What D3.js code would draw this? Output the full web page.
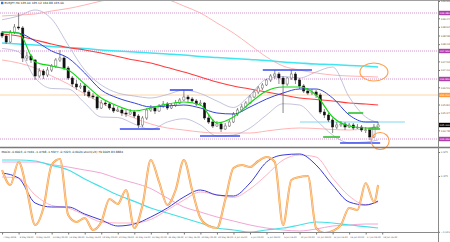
<!DOCTYPE html>
<html>
<head>
<meta charset="utf-8">
<script src="https://cdn.jsdelivr.net/npm/d3@7"></script>
<style>
  body { margin: 0; background: #fff; }
  svg { display: block; }
  text { font-family: "DejaVu Sans", sans-serif; }
</style>
</head>
<body>
<div id="chart"></div>
<script>
// price candles (H4)
const opens = [168.68,168.56,168.32,168.72,168.92,168.88,167.68,167.76,167.60,166.96,167.16,167.00,167.20,167.36,167.60,167.68,167.28,166.88,166.64,166.52,166.56,166.32,166.16,166.12,165.68,165.88,165.84,165.68,165.56,165.60,165.48,165.44,165.52,165.36,165.00,165.28,165.60,165.68,165.56,165.76,165.84,165.68,165.80,165.88,166.00,166.12,166.04,165.96,165.84,165.88,165.28,165.12,164.96,165.04,164.84,164.96,165.12,165.44,165.60,165.72,165.88,166.12,166.32,166.48,166.60,166.80,166.96,167.04,166.88,166.64,166.88,167.04,166.80,166.56,166.36,166.28,166.32,166.20,165.52,165.40,165.20,164.92,165.00,165.04,164.92,165.00,164.88,164.92,164.80,164.80,164.52,164.92];
const highs = [168.76,168.64,168.80,169.04,169.48,168.96,167.92,167.84,167.64,167.28,167.24,167.32,167.44,167.68,168.00,167.76,167.36,166.96,166.80,166.68,166.64,166.40,166.28,166.16,166.00,165.96,165.92,165.80,165.72,165.68,165.60,165.64,165.60,165.44,165.36,165.68,165.80,165.76,165.84,165.96,165.92,165.88,166.00,166.08,166.40,166.20,166.12,166.04,166.00,165.92,165.40,165.24,165.16,165.12,165.08,165.20,165.52,165.68,165.84,165.96,166.20,166.40,166.56,166.68,166.84,167.04,167.20,167.12,166.96,166.92,167.20,167.12,166.88,166.64,166.48,166.44,166.40,166.28,165.64,165.48,165.28,165.12,165.16,165.12,165.08,165.08,165.04,165.00,164.92,164.88,165.04,165.12];
const lows = [168.48,168.24,168.28,168.64,168.80,167.52,167.56,167.48,166.80,166.88,166.84,166.92,167.12,167.28,167.52,167.20,166.80,166.52,166.40,166.44,166.16,166.08,166.04,165.60,165.64,165.76,165.60,165.48,165.52,165.36,165.32,165.40,165.28,164.88,164.92,165.20,165.52,165.44,165.52,165.68,165.60,165.64,165.72,165.84,165.96,165.92,165.88,165.76,165.76,165.20,165.04,164.88,164.92,164.72,164.80,164.92,165.08,165.36,165.52,165.68,165.84,166.08,166.24,166.40,166.56,166.72,166.84,166.64,165.48,166.56,166.80,166.64,166.44,166.28,166.20,166.20,166.08,165.44,165.28,165.12,164.68,164.84,164.92,164.80,164.88,164.80,164.84,164.72,164.68,164.40,164.48,164.88];
const closes = [168.56,168.32,168.72,168.92,168.88,167.68,167.76,167.60,166.96,167.16,167.00,167.20,167.36,167.60,167.68,167.28,166.88,166.64,166.52,166.56,166.32,166.16,166.12,165.68,165.88,165.84,165.68,165.56,165.60,165.48,165.44,165.52,165.36,165.00,165.28,165.60,165.68,165.56,165.76,165.84,165.68,165.80,165.88,166.00,166.12,166.04,165.96,165.84,165.88,165.28,165.12,164.96,165.04,164.84,164.96,165.12,165.44,165.60,165.72,165.88,166.12,166.32,166.48,166.60,166.80,166.96,167.04,166.88,166.64,166.88,167.04,166.80,166.56,166.36,166.28,166.32,166.20,165.52,165.40,165.20,164.92,165.00,165.04,164.92,165.00,164.88,164.92,164.80,164.80,164.52,164.92,165.00];

// overlay lines sampled at these bar numbers
const lineIdx = [0,4,8,12,16,20,24,28,32,36,40,44,48,52,56,60,64,68,72,76,80,84,88,91];
const greenMA = [168.72,168.68,167.52,167.36,167.20,166.64,166.08,165.76,165.56,165.68,165.84,165.92,165.80,165.08,165.32,165.88,166.36,166.52,166.52,166.20,165.32,164.96,164.88,164.92];
const blueMA = [168.72,168.68,168.36,167.96,167.68,167.08,166.40,166.08,165.88,165.72,165.76,165.80,165.68,165.48,165.44,165.72,166.04,166.28,166.44,166.44,166.08,165.40,165.12,165.12];
const redMA = [168.64,168.56,168.40,168.24,168.10,168.00,167.88,167.74,167.60,167.48,167.30,167.12,166.92,166.72,166.56,166.44,166.32,166.20,166.08,166.02,165.96,165.88,165.84,165.80];
const cyanMA = [168.28,168.24,168.20,168.14,168.10,168.06,168.00,167.96,167.92,167.88,167.84,167.80,167.74,167.70,167.66,167.62,167.58,167.52,167.48,167.44,167.42,167.38,167.36,167.32];
const envUpper = [169.36,169.40,169.44,169.56,169.66,169.80,169.96,170.08,170.16,170.12,170.02,169.76,169.48,169.08,168.68,168.20,167.72,167.36,167.20,167.08,167.00,166.96,166.94,166.92];
const envLower = [167.60,167.48,167.28,166.96,166.64,166.24,165.88,165.56,165.28,165.04,164.88,164.80,164.72,164.68,164.68,164.68,164.76,164.84,164.88,164.86,164.82,164.80,164.84,164.88];
const bandUpper = [169.21,169.36,169.60,169.24,168.20,167.20,166.60,166.28,166.16,166.08,166.22,166.40,166.26,165.96,165.70,166.20,166.84,166.94,166.88,167.12,167.32,166.12,165.32,165.10];
const bandLower = [168.06,167.93,166.88,166.46,166.44,165.88,165.32,165.30,165.04,164.82,165.12,165.25,165.00,164.56,164.60,164.88,165.40,165.85,165.80,165.20,164.60,164.29,164.32,164.40];

// drawn levels and marks
const dottedLevels = [169.48, 167.96, 166.84, 164.44];
const orangeLevel = 166.20;
const lastPrice = 165.00;
const blueSegs = [[28.5,38.2,164.84],[40.6,46.2,166.40],[47.9,57.6,164.56],[63.1,75.0,167.20],[81.8,91.5,164.28]];
const greenSegs = [[77.7,81.8,164.52],[83.7,87.4,165.48],[88.6,91.5,164.84]];
const cyanSeg = [72.1,97.5,165.12];
const circleMarks = [[90.0,167.12],[91.5,164.36]];

// lower window
const oscIdx = [0,2,4,6,8,10,12,14,16,18,20,22,24,26,28,30,32,34,36,38,40,42,44,46,48,50,52,54,56,58,60,62,64,66,68,70,72,74,76,78,80,82,84,86,88,90,91];
const osc = [0.525,0.15,0.725,0.025,-0.85,-0.425,0.65,0.8,-0.6,-0.775,-0.675,-0.975,-0.775,-0.2,-0.325,0.025,-0.925,-0.35,0.775,0.225,-0.35,0.025,0.775,0.025,-0.675,-0.875,-0.925,-0.225,0.575,0.65,0.6,0.75,0.85,0.725,-0.85,0.275,0.35,0.375,-0.925,-1.05,-1.0,-0.85,-0.425,-0.475,0.2,-0.275,0.15];
const macdMain = [0.45,0.325,-0.3,-0.4,-0.4,-0.575,-0.725,-0.875,-0.825,-0.65,-0.425,-0.15,0.025,-0.1,-0.125,0.2,0.725,0.9,0.925,0.65,0.15,-0.275,-0.35,-0.25];
const macdSignal = [0.35,0.325,-0.1,-0.36,-0.425,-0.6,-0.775,-0.8,-0.8,-0.71,-0.475,-0.225,-0.025,-0.1,-0.16,0.05,0.4,0.775,0.9,0.85,0.325,-0.125,-0.34,-0.275];
const slowCyan = [0.775,0.775,0.75,0.64,0.525,0.3,0.1,-0.1,-0.26,-0.425,-0.55,-0.675,-0.8,-0.925,-0.975,-1.025,-0.975,-0.925,-0.85,-0.775,-0.8,-0.85,-0.89,-0.925];
const slowPink = [0.725,0.725,0.725,0.66,0.6,0.525,0.45,0.31,0.2,0.06,-0.175,-0.4,-0.525,-0.65,-0.75,-0.85,-0.925,-0.975,-1.0,-0.95,-0.875,-0.85,-0.825,-0.825];

// axis labels
const priceTicks = [169.96,169.615,169.27,168.925,168.58,168.235,167.89,167.545,167.2,166.855,166.51,166.165,165.82,165.475,165.13,164.785];
const subTicks = [0.975, 0.375, -1.02];
const timeIdx = [0,4,8,12,16,20,24,28,32,36,40,44,48,52,56,60,64,68,72,76,80,84,88,92];
const timeLabels = ["7 May 2008","8 May 08:00","9 May 16:00","13 May 00:00","14 May 08:00","15 May 16:00","19 May 00:00","20 May 08:00","21 May 16:00","23 May 00:00","26 May 08:00","27 May 16:00","29 May 00:00","30 May 08:00","2 Jun 16:00","4 Jun 00:00","5 Jun 08:00","6 Jun 16:00","10 Jun 00:00","11 Jun 08:00","12 Jun 16:00","16 Jun 00:00","17 Jun 08:00","18 Jun 16:00"];

const width = 450, height = 242, plotW = 438;

const svg = d3.select("#chart").append("svg")
    .attr("width", width)
    .attr("height", height);

svg.append("rect").attr("width", width).attr("height", height).attr("fill", "#fff");

const x = d3.scaleLinear().domain([-0.5, 105.5]).range([0, plotW]);
const y = d3.scaleLinear().domain([164.16, 170]).range([146, 0]);
const ys = d3.scaleLinear().domain([-1.05, 1.075]).range([233, 148]);

const defs = svg.append("defs");
defs.append("clipPath").attr("id", "clipMain")
  .append("rect").attr("x", 0).attr("y", 1).attr("width", plotW).attr("height", 145);
defs.append("clipPath").attr("id", "clipSub")
  .append("rect").attr("x", 0).attr("y", 149).attr("width", plotW).attr("height", 83);

const main = svg.append("g").attr("clip-path", "url(#clipMain)");
const sub = svg.append("g").attr("clip-path", "url(#clipSub)");

// horizontal levels
main.selectAll(".lvl").data(dottedLevels).enter().append("line")
  .attr("x1", 0).attr("x2", plotW)
  .attr("y1", d => y(d)).attr("y2", d => y(d))
  .attr("stroke", "#c77ac7").attr("stroke-width", 0.8)
  .attr("stroke-dasharray", "1,1");

main.append("line")
  .attr("x1", 0).attr("x2", plotW)
  .attr("y1", y(orangeLevel)).attr("y2", y(orangeLevel))
  .attr("stroke", "#ffcf9f").attr("stroke-width", 0.9);

const lineM = (vals, idx) => d3.line()
  .x((d, i) => x(idx[i]))
  .y(d => y(d))
  .curve(d3.curveMonotoneX)(vals);

const lineS = (vals, idx) => d3.line()
  .x((d, i) => x(idx[i]))
  .y(d => ys(d))
  .curve(d3.curveMonotoneX)(vals);

function drawMain(vals, color, w) {
  main.append("path")
    .attr("d", lineM(vals, lineIdx))
    .attr("fill", "none")
    .attr("stroke", color)
    .attr("stroke-width", w);
}

drawMain(envUpper, "#ffaaaa", 0.9);
drawMain(envLower, "#ffaaaa", 0.9);
drawMain(cyanMA, "#3fe6f2", 1.6);
drawMain(redMA, "#ff3c3c", 1.1);
drawMain(bandUpper, "#a9a9cf", 0.7);
drawMain(bandLower, "#a9a9cf", 0.7);

// cyan horizontal
main.append("line")
  .attr("x1", x(cyanSeg[0])).attr("x2", x(cyanSeg[1]))
  .attr("y1", y(cyanSeg[2])).attr("y2", y(cyanSeg[2]))
  .attr("stroke", "#7fd8f0").attr("stroke-width", 1);

// candles
const bars = d3.range(opens.length);
main.selectAll(".wick").data(bars).enter().append("line")
  .attr("x1", i => x(i)).attr("x2", i => x(i))
  .attr("y1", i => y(highs[i])).attr("y2", i => y(lows[i]))
  .attr("stroke", "#555").attr("stroke-width", 0.7);

main.selectAll(".body").data(bars).enter().append("rect")
  .attr("x", i => x(i) - 1.1)
  .attr("width", 2.2)
  .attr("y", i => y(Math.max(opens[i], closes[i])))
  .attr("height", i => Math.max(0.7, Math.abs(y(opens[i]) - y(closes[i]))))
  .attr("fill", i => closes[i] >= opens[i] ? "#fff" : "#111")
  .attr("stroke", i => closes[i] >= opens[i] ? "#666" : "#111")
  .attr("stroke-width", 0.5);

drawMain(blueMA, "#3545d6", 1);
drawMain(greenMA, "#10d810", 1.2);

// drawn segments
main.selectAll(".bseg").data(blueSegs).enter().append("line")
  .attr("x1", d => x(d[0])).attr("x2", d => x(d[1]))
  .attr("y1", d => y(d[2])).attr("y2", d => y(d[2]))
  .attr("stroke", "#3a4cf0").attr("stroke-width", 1.6);
main.selectAll(".gseg").data(greenSegs).enter().append("line")
  .attr("x1", d => x(d[0])).attr("x2", d => x(d[1]))
  .attr("y1", d => y(d[2])).attr("y2", d => y(d[2]))
  .attr("stroke", "#2fbf2f").attr("stroke-width", 1.6);

// circles
svg.selectAll(".mark").data(circleMarks).enter().append("ellipse")
  .attr("cx", d => x(d[0])).attr("cy", d => y(d[1]))
  .attr("rx", (d, i) => i === 0 ? 14 : 9)
  .attr("ry", (d, i) => i === 0 ? 9 : 8.5)
  .attr("fill", "none")
  .attr("stroke", "#ff9b45").attr("stroke-width", 1.1);

// lower window
function drawSub(vals, idx, color, w) {
  sub.append("path")
    .attr("d", lineS(vals, idx))
    .attr("fill", "none")
    .attr("stroke", color)
    .attr("stroke-width", w);
}
drawSub(slowPink, lineIdx, "#f2a6d6", 1);
drawSub(slowCyan, lineIdx, "#45e0e6", 1.2);
drawSub(macdSignal, lineIdx, "#ffb2c4", 1);
drawSub(macdMain, lineIdx, "#3a3ad8", 1);
drawSub(osc, oscIdx, "#f7a03e", 2.1);
drawSub(osc, oscIdx, "#ffe2d8", 0.7);

// frame and panel borders
svg.append("line").attr("x1", 0).attr("x2", width).attr("y1", 0.5).attr("y2", 0.5)
  .attr("stroke", "#a0a0a0").attr("stroke-width", 1);
svg.append("line").attr("x1", 0).attr("x2", width).attr("y1", 147.5).attr("y2", 147.5)
  .attr("stroke", "#7a7a7a").attr("stroke-width", 1.6);
svg.append("line").attr("x1", 0).attr("x2", plotW).attr("y1", 232.5).attr("y2", 232.5)
  .attr("stroke", "#8a8a8a").attr("stroke-width", 1);
svg.append("line").attr("x1", plotW + 0.5).attr("x2", plotW + 0.5).attr("y1", 0).attr("y2", height)
  .attr("stroke", "#8a8a8a").attr("stroke-width", 1);

// price axis: skip tick texts hidden under a level tag
const tagged = dottedLevels.concat([orangeLevel, lastPrice]);
const freeTicks = priceTicks.filter(t => tagged.every(p => Math.abs(y(t) - y(p)) > 4.4));
const yAxis = d3.axisRight(y)
  .tickValues(freeTicks)
  .tickFormat(d3.format(".3f"))
  .tickSize(1.5)
  .tickPadding(0.8);
const ga = svg.append("g").attr("transform", "translate(" + (plotW + 0.5) + ",0)").call(yAxis);
ga.select(".domain").remove();
ga.selectAll("line").attr("stroke", "#777");
ga.selectAll("text").attr("font-size", 2.5).attr("fill", "#555");

const subAxis = d3.axisRight(ys)
  .tickValues(subTicks)
  .tickFormat(d3.format(".3f"))
  .tickSize(1.5)
  .tickPadding(0.8);
const gs = svg.append("g").attr("transform", "translate(" + (plotW + 0.5) + ",0)").call(subAxis);
gs.select(".domain").remove();
gs.selectAll("line").attr("stroke", "#777");
gs.selectAll("text").attr("font-size", 2.5).attr("fill", "#555");

// level tags on the price scale
function tag(price, bg, fg) {
  svg.append("rect")
    .attr("x", plotW + 1).attr("y", y(price) - 2.2)
    .attr("width", width - plotW - 1).attr("height", 4.4)
    .attr("fill", bg);
  svg.append("text")
    .attr("x", plotW + 1.6).attr("y", y(price) + 0.9)
    .attr("font-size", 2.5).attr("fill", fg)
    .text(price.toFixed(3));
}
dottedLevels.forEach(p => tag(p, "#b03cb0", "#fff"));
tag(orangeLevel, "#ff9a3a", "#fff");
tag(lastPrice, "#000", "#fff");

// time axis
const xAxis = d3.axisBottom(x)
  .tickValues(timeIdx)
  .tickFormat((d, i) => timeLabels[i])
  .tickSize(2)
  .tickPadding(0.5);
const gx = svg.append("g").attr("transform", "translate(0,232.5)").call(xAxis);
gx.select(".domain").remove();
gx.selectAll("line").attr("stroke", "#777");
gx.selectAll("text")
  .attr("font-size", 2.2).attr("fill", "#555")
  .attr("text-anchor", "start").attr("dx", 0.6).attr("y", 4.3);

// window headers
svg.append("rect").attr("x", 1).attr("y", 1.8).attr("width", 2.4).attr("height", 2.4)
  .attr("fill", "#2a7bd8");
svg.append("text").attr("x", 4.5).attr("y", 4.3)
  .attr("font-size", 2.9).attr("fill", "#222")
  .text("EURJPY,H4  165.04 165.12 164.88 165.00");
svg.append("text").attr("x", 1.5).attr("y", 152.5)
  .attr("font-size", 2.9).attr("fill", "#222")
  .text("MACD -0.6003 -0.7461 -1.4768 -1.5977 -0.7223 -0.6024  stoch(vlt) 79.9005 83.8884");
</script>
</body>
</html>
